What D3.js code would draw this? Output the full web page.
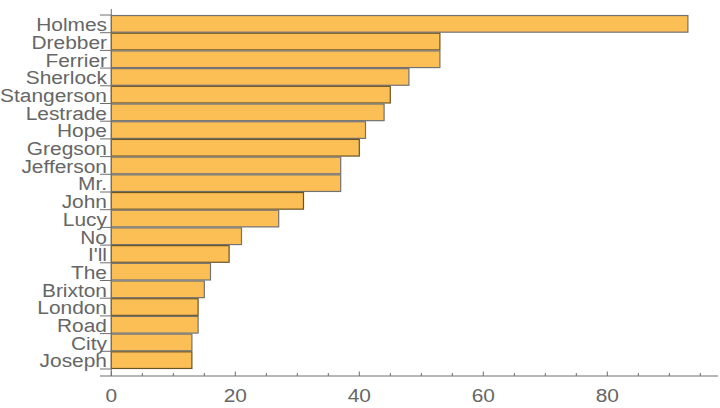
<!DOCTYPE html>
<html>
<head>
<meta charset="utf-8">
<script src="https://cdn.jsdelivr.net/npm/d3@7"></script>
<style>
  body { margin: 0; background: #fff; }
  text { font-family: "Liberation Sans", Arial, sans-serif; fill: #666; }
</style>
</head>
<body>
<div id="chart"></div>
<script>
// word counts, top to bottom
var names = ["Holmes", "Drebber", "Ferrier", "Sherlock", "Stangerson", "Lestrade", "Hope",
  "Gregson", "Jefferson", "Mr.", "John", "Lucy", "No", "I'll", "The", "Brixton",
  "London", "Road", "City", "Joseph"];
var counts = [93, 53, 53, 48, 45, 44, 41, 40, 37, 37, 31, 27, 21, 19, 16, 15, 14, 14, 13, 13];
var xTicks = [0, 20, 40, 60, 80];
var xMinor = [5, 10, 15, 25, 30, 35, 45, 50, 55, 65, 70, 75, 85, 90, 95];

var width = 720, height = 408;

var svg = d3.select("#chart").append("svg")
  .attr("width", width)
  .attr("height", height);

// x scale: 0 at ~111, 6.2px per unit
var x = d3.scaleLinear().domain([0, 100]).range([111.3, 111.3 + 620]);

var y = d3.scaleBand()
  .domain(names)
  .range([15, 369])
  .paddingInner(0.06)
  .paddingOuter(0.03);

var axisColor = "#6e6e6e";
var stretch = 1.1; // text in the original is a bit wide

// bars
svg.append("g").selectAll("rect")
  .data(names)
  .enter().append("rect")
    .attr("x", x(0))
    .attr("y", function(d) { return y(d); })
    .attr("width", function(d, i) { return x(counts[i]) - x(0); })
    .attr("height", y.bandwidth())
    .attr("fill", "#fbbf56")
    .attr("stroke", function(d, i) { return i % 3 == 1 ? "#6b5424" : "#727272"; })
    .attr("stroke-width", 1.2);

// y axis line
svg.append("line")
  .attr("x1", x(0)).attr("x2", x(0))
  .attr("y1", 9).attr("y2", 376)
  .attr("stroke", axisColor);

// y ticks at band boundaries
var step = y.step();
var bounds = names.map(function(d) { return y(d) - step * y.paddingInner() / 2; });
bounds.push(y(names[names.length - 1]) + y.bandwidth() + step * y.paddingInner() / 2);
svg.append("g").selectAll("line")
  .data(bounds)
  .enter().append("line")
    .attr("x1", 100).attr("x2", x(0))
    .attr("y1", function(d) { return d; })
    .attr("y2", function(d) { return d; })
    .attr("stroke", axisColor);

// y labels
svg.append("g").selectAll("text")
  .data(names)
  .enter().append("text")
    .attr("transform", function(d) {
      return "translate(107," + (y(d) + y.bandwidth() / 2 + 7.3) + ") scale(" + stretch + ",1)";
    })
    .attr("text-anchor", "end")
    .style("font-size", "19px")
    .text(function(d) { return d; });

// x axis
svg.append("line")
  .attr("x1", 100).attr("x2", 718)
  .attr("y1", 376).attr("y2", 376)
  .attr("stroke", axisColor);

svg.append("g").selectAll("line")
  .data(xTicks)
  .enter().append("line")
    .attr("x1", function(d) { return x(d); })
    .attr("x2", function(d) { return x(d); })
    .attr("y1", 376).attr("y2", 371.5)
    .attr("stroke", axisColor);

svg.append("g").selectAll("line")
  .data(xMinor)
  .enter().append("line")
    .attr("x1", function(d) { return x(d); })
    .attr("x2", function(d) { return x(d); })
    .attr("y1", 376).attr("y2", 373)
    .attr("stroke", axisColor);

svg.append("g").selectAll("text")
  .data(xTicks)
  .enter().append("text")
    .attr("transform", function(d) { return "translate(" + x(d) + ",401.5) scale(" + stretch + ",1)"; })
    .attr("text-anchor", "middle")
    .style("font-size", "19px")
    .text(function(d) { return d; });
</script>
</body>
</html>
